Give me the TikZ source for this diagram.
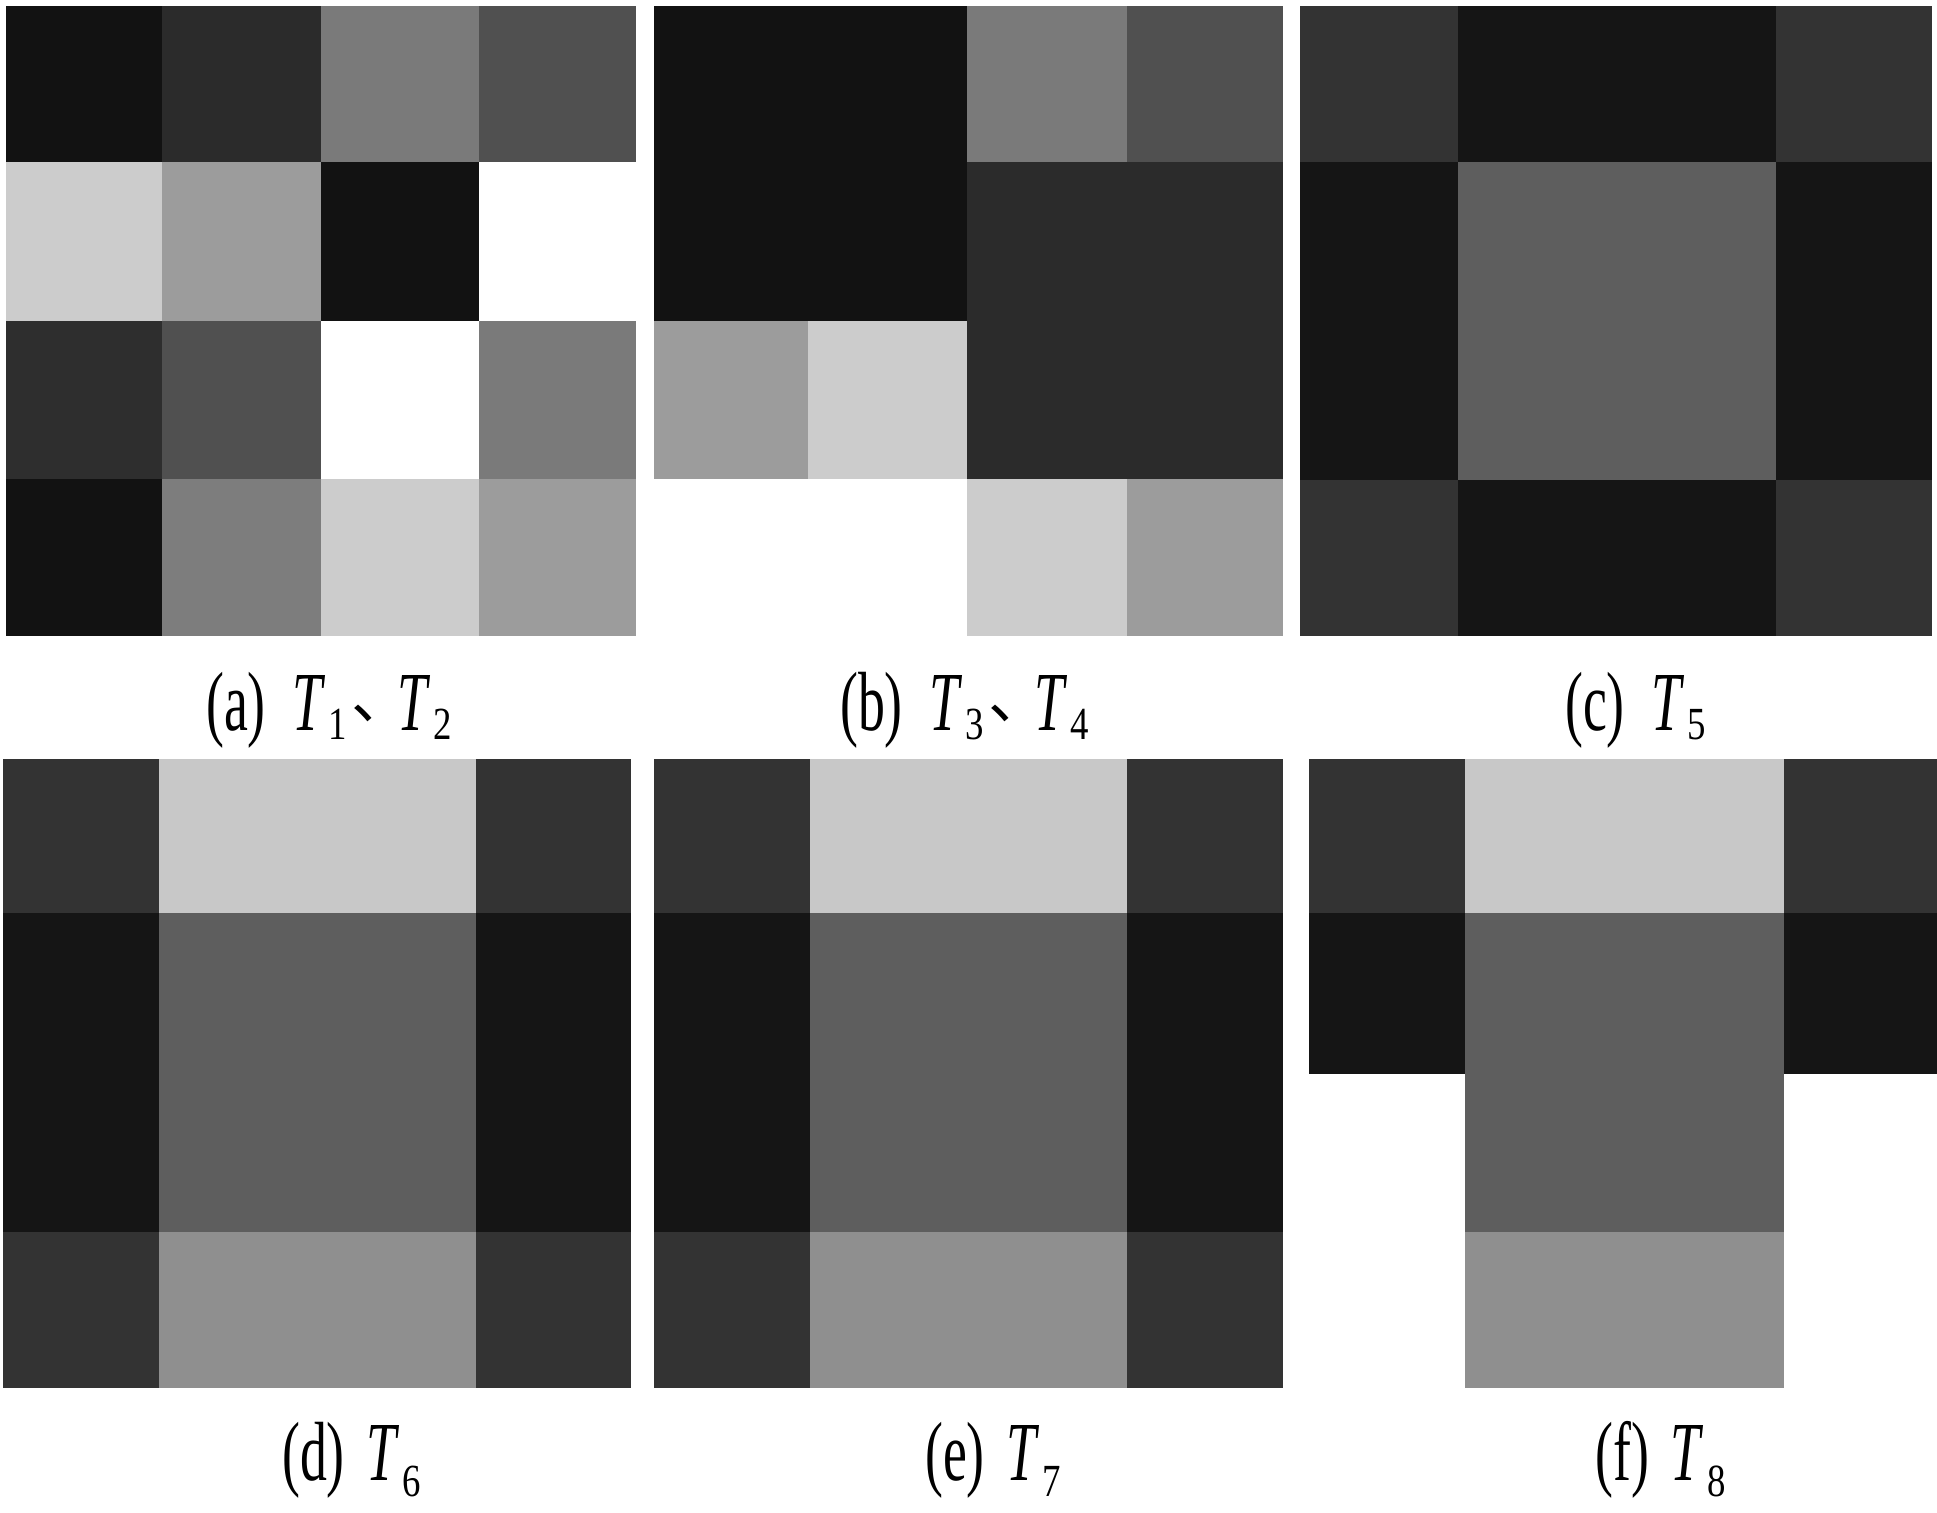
\documentclass[tikz,border=0pt]{standalone}
\usepackage{fontspec}
\setmainfont{Liberation Serif}
\newfontfamily\cjk{Noto Sans CJK SC}
\definecolor{k12}{HTML}{121212}
\definecolor{k14}{HTML}{151515}
\definecolor{k2B}{HTML}{2B2B2B}
\definecolor{k2E}{HTML}{2E2E2E}
\definecolor{k33}{HTML}{333333}
\definecolor{k50}{HTML}{505050}
\definecolor{k5E}{HTML}{5E5E5E}
\definecolor{k7A}{HTML}{7A7A7A}
\definecolor{k7D}{HTML}{7D7D7D}
\definecolor{k8F}{HTML}{8F8F8F}
\definecolor{k9C}{HTML}{9C9C9C}
\definecolor{kC8}{HTML}{C8C8C8}
\definecolor{kCC}{HTML}{CCCCCC}
\newcommand\sx[1]{\scalebox{0.64}[1]{#1}}
% #1 = subscript, #2 = lowering
\newcommand\Tsub[2]{\sx{\textit{T}}\kern3pt\raisebox{-#2}{\scalebox{0.8}[1]{\fontsize{46}{46}\selectfont #1}}}
\newcommand\dun{\kern4pt\raisebox{12pt}{\makebox[46pt][l]{\cjk\fontsize{60}{60}\selectfont 、}}}
\begin{document}
\begin{tikzpicture}[x=1pt,y=-1pt,
  lbl/.style={inner sep=0pt, anchor=base west, font=\fontsize{84}{90}\selectfont}]
\useasboundingbox[fill=white] (0,0) rectangle (1937,1512);
% (a)
\foreach \xa/\ya/\xb/\yb/\c in {
  6/6/162/162/k12, 162/6/321/162/k2B, 321/6/479/162/k7A, 479/6/636/162/k50,
  6/162/162/321/kCC, 162/162/321/321/k9C, 321/162/479/321/k12,
  6/321/162/479/k2E, 162/321/321/479/k50, 479/321/636/479/k7A,
  6/479/162/636/k12, 162/479/321/636/k7D, 321/479/479/636/kCC, 479/479/636/636/k9C}
  \fill[\c] (\xa,\ya) rectangle (\xb,\yb);
% (b)
\foreach \xa/\ya/\xb/\yb/\c in {
  653.5/6/967/321/k12, 967/6/1127/162/k7A, 1127/6/1283/162/k50,
  967/162/1283/479/k2B, 653.5/321/808/479/k9C, 808/321/967/479/kCC,
  967/479/1127/636/kCC, 1127/479/1283/636/k9C}
  \fill[\c] (\xa,\ya) rectangle (\xb,\yb);
% (c)
\foreach \xa/\ya/\xb/\yb/\c in {
  1300/6/1457.6/162/k33, 1457.6/6/1775.8/162/k14, 1775.8/6/1932/162/k33,
  1300/162/1457.6/480/k14, 1457.6/162/1775.8/480/k5E, 1775.8/162/1932/480/k14,
  1300/480/1457.6/636/k33, 1457.6/480/1775.8/636/k14, 1775.8/480/1932/636/k33}
  \fill[\c] (\xa,\ya) rectangle (\xb,\yb);
% (d)
\foreach \xa/\ya/\xb/\yb/\c in {
  3/758.5/158.7/913.4/k33, 158.7/758.5/475.6/913.4/kC8, 475.6/758.5/631.4/913.4/k33,
  3/913.4/158.7/1231.6/k14, 158.7/913.4/475.6/1231.6/k5E, 475.6/913.4/631.4/1231.6/k14,
  3/1231.6/158.7/1388/k33, 158.7/1231.6/475.6/1388/k8F, 475.6/1231.6/631.4/1388/k33}
  \fill[\c] (\xa,\ya) rectangle (\xb,\yb);
% (e)
\foreach \xa/\ya/\xb/\yb/\c in {
  654/758.5/809.6/913.4/k33, 809.6/758.5/1127/913.4/kC8, 1127/758.5/1283/913.4/k33,
  654/913.4/809.6/1231.6/k14, 809.6/913.4/1127/1231.6/k5E, 1127/913.4/1283/1231.6/k14,
  654/1231.6/809.6/1388/k33, 809.6/1231.6/1127/1388/k8F, 1127/1231.6/1283/1388/k33}
  \fill[\c] (\xa,\ya) rectangle (\xb,\yb);
% (f)
\foreach \xa/\ya/\xb/\yb/\c in {
  1308.6/758.5/1465.2/913.4/k33, 1465.2/758.5/1783.8/913.4/kC8, 1783.8/758.5/1937/913.4/k33,
  1308.6/913.4/1465.2/1073.8/k14, 1465.2/913.4/1783.8/1231.6/k5E, 1783.8/913.4/1937/1073.8/k14,
  1465.2/1231.6/1783.8/1388/k8F}
  \fill[\c] (\xa,\ya) rectangle (\xb,\yb);
% labels
\node[lbl] (la) at (206,730) {\sx{(a)}\kern27pt\Tsub{1}{9pt}\dun\Tsub{2}{9pt}};
\node[lbl] (lb) at (840,730) {\sx{(b)}\kern27pt\Tsub{3}{9pt}\dun\Tsub{4}{9pt}};
\node[lbl] (lc) at (1565,730) {\sx{(c)}\kern27pt\Tsub{5}{9pt}};
\node[lbl] (ld) at (282,1480) {\sx{(d)}\kern22pt\Tsub{6}{16pt}};
\node[lbl] (le) at (925,1480) {\sx{(e)}\kern22pt\Tsub{7}{16pt}};
\node[lbl] (lf) at (1595,1480) {\sx{(f)}\kern22pt\Tsub{8}{16pt}};
\end{tikzpicture}
\end{document}
